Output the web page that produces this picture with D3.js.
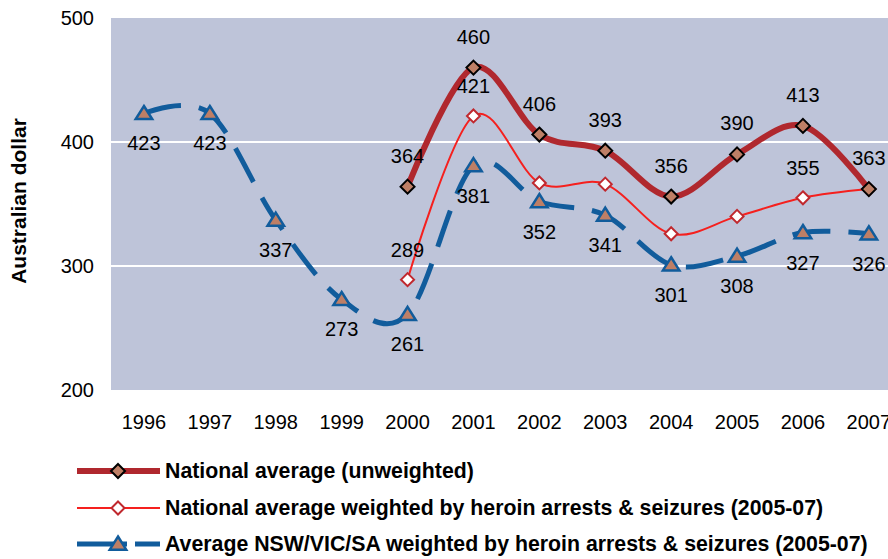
<!DOCTYPE html>
<html>
<head>
<meta charset="utf-8">
<script src="https://cdn.jsdelivr.net/npm/d3@7"></script>
<style>
  body { margin: 0; background: #fff; }
  #chart { width: 888px; height: 559px; }
  text { font-family: "Liberation Sans", Arial, sans-serif; fill: #000; }
</style>
</head>
<body>
<div id="chart"></div>
<script>
var years = [1996, 1997, 1998, 1999, 2000, 2001, 2002, 2003, 2004, 2005, 2006, 2007];

// national average (unweighted), starts in 2000
var nationalValues = [null, null, null, null, 364, 460, 406, 393, 356, 390, 413, 362];
var nationalLabels = [null, null, null, null, "364", "460", "406", "393", "356", "390", "413", "363"];

// national average weighted by heroin arrests & seizures
var weightedValues = [null, null, null, null, 289, 421, 367, 366, 326, 340, 355, 362];
var weightedLabels = [null, null, null, null, "289", "421", null, null, null, null, "355", null];

// NSW/VIC/SA weighted
var stateValues = [423, 423, 337, 273, 261, 381, 352, 341, 301, 308, 327, 326];
var stateLabels = ["423", "423", "337", "273", "261", "381", "352", "341", "301", "308", "327", "326"];

var yTicks = [200, 300, 400, 500];

var seriesNames = [
    "National average (unweighted)",
    "National average weighted by heroin arrests & seizures (2005-07)",
    "Average NSW/VIC/SA weighted by heroin arrests & seizures (2005-07)"
];

var width = 888, height = 559;
var margin = {top: 18, left: 111};
var plotBottom = 390;
var bandW = 65.9;

var svg = d3.select("#chart").append("svg")
    .attr("width", width)
    .attr("height", height);

var x = d3.scaleBand()
    .domain(years)
    .range([margin.left, margin.left + bandW * years.length])
    .padding(0);

var y = d3.scaleLinear()
    .domain([200, 500])
    .range([plotBottom, margin.top]);

function cx(yr) { return x(yr) + x.bandwidth() / 2; }

// plot background
svg.append("rect")
    .attr("x", margin.left)
    .attr("y", margin.top)
    .attr("width", bandW * years.length)
    .attr("height", plotBottom - margin.top)
    .attr("fill", "#BEC4D9");

// gridlines (only 300 / 400 show)
svg.selectAll(".grid")
    .data([300, 400])
    .enter().append("line")
    .attr("x1", margin.left)
    .attr("x2", margin.left + bandW * years.length)
    .attr("y1", function (d) { return y(d); })
    .attr("y2", function (d) { return y(d); })
    .attr("stroke", "#fff")
    .attr("stroke-width", 2);

// y axis labels
svg.selectAll(".ytick")
    .data(yTicks)
    .enter().append("text")
    .attr("x", 94)
    .attr("y", function (d) { return y(d); })
    .attr("dy", "0.35em")
    .attr("text-anchor", "end")
    .style("font-size", "20px")
    .text(function (d) { return d; });

// x axis labels
svg.selectAll(".xtick")
    .data(years)
    .enter().append("text")
    .attr("x", function (d) { return cx(d); })
    .attr("y", 422)
    .attr("dy", "0.35em")
    .attr("text-anchor", "middle")
    .style("font-size", "20px")
    .text(function (d) { return d; });

svg.append("text")
    .attr("transform", "translate(26,201)rotate(-90)")
    .attr("text-anchor", "middle")
    .style("font-size", "21px")
    .style("font-weight", "bold")
    .text("Australian dollar");

function pts(values) {
    return years.map(function (yr, i) { return {year: yr, v: values[i], i: i}; })
        .filter(function (d) { return d.v != null; });
}

var line = d3.line()
    .x(function (d) { return cx(d.year); })
    .y(function (d) { return y(d.v); })
    .curve(d3.curveCardinal.tension(0));

function diamond(r) {
    return "M0," + (-r) + "L" + r + ",0L0," + r + "L" + (-r) + ",0Z";
}
function triangle(r) {
    return "M0," + (-r) + "L" + (r * 1.1) + "," + (r * 0.75) + "L" + (-r * 1.1) + "," + (r * 0.75) + "Z";
}

var styles = [
    {color: "#B0282E", width: 6, dash: null, shape: diamond(7), fill: "#BE7F66", mstroke: "#000", mwidth: 2},
    {color: "#F5201E", width: 2, dash: null, shape: diamond(6.5), fill: "#fff", mstroke: "#C0282E", mwidth: 2},
    {color: "#115C9C", width: 5, dash: "38,18", shape: triangle(7.5), fill: "#BE7F66", mstroke: "#115C9C", mwidth: 2.5}
];

var allValues = [nationalValues, weightedValues, stateValues];
var allLabels = [nationalLabels, weightedLabels, stateLabels];
var labelOffset = [-31, -30, 30];

// draw lines back to front: state, weighted, national
[2, 1, 0].forEach(function (s) {
    var st = styles[s];
    svg.append("path")
        .datum(pts(allValues[s]))
        .attr("d", line)
        .attr("fill", "none")
        .attr("stroke", st.color)
        .attr("stroke-width", st.width)
        .attr("stroke-dasharray", st.dash);

    svg.selectAll(".m" + s)
        .data(pts(allValues[s]))
        .enter().append("path")
        .attr("d", st.shape)
        .attr("transform", function (d) { return "translate(" + cx(d.year) + "," + y(d.v) + ")"; })
        .attr("fill", st.fill)
        .attr("stroke", st.mstroke)
        .attr("stroke-width", st.mwidth);
});

// data labels
[0, 1, 2].forEach(function (s) {
    var data = pts(allValues[s]).filter(function (d) { return allLabels[s][d.i] != null; });
    svg.selectAll(".l" + s)
        .data(data)
        .enter().append("text")
        .attr("x", function (d) { return cx(d.year); })
        .attr("y", function (d) { return y(d.v) + labelOffset[s]; })
        .attr("dy", "0.35em")
        .attr("text-anchor", "middle")
        .style("font-size", "20px")
        .text(function (d) { return allLabels[s][d.i]; });
});

// legend
var legendY = [471, 508, 544];
var legend = svg.selectAll(".legend")
    .data(seriesNames)
    .enter().append("g")
    .attr("transform", function (d, i) { return "translate(0," + legendY[i] + ")"; });

legend.append("line")
    .attr("x1", 77)
    .attr("x2", 160)
    .attr("stroke", function (d, i) { return styles[i].color; })
    .attr("stroke-width", function (d, i) { return styles[i].width; })
    .attr("stroke-dasharray", function (d, i) { return i == 2 ? "50,8" : null; });

legend.append("path")
    .attr("transform", "translate(118,0)")
    .attr("d", function (d, i) { return styles[i].shape; })
    .attr("fill", function (d, i) { return styles[i].fill; })
    .attr("stroke", function (d, i) { return styles[i].mstroke; })
    .attr("stroke-width", function (d, i) { return styles[i].mwidth; });

legend.append("text")
    .attr("x", 165)
    .attr("dy", "0.35em")
    .style("font-size", "21.3px")
    .style("font-weight", "bold")
    .text(function (d) { return d; });
</script>
</body>
</html>
